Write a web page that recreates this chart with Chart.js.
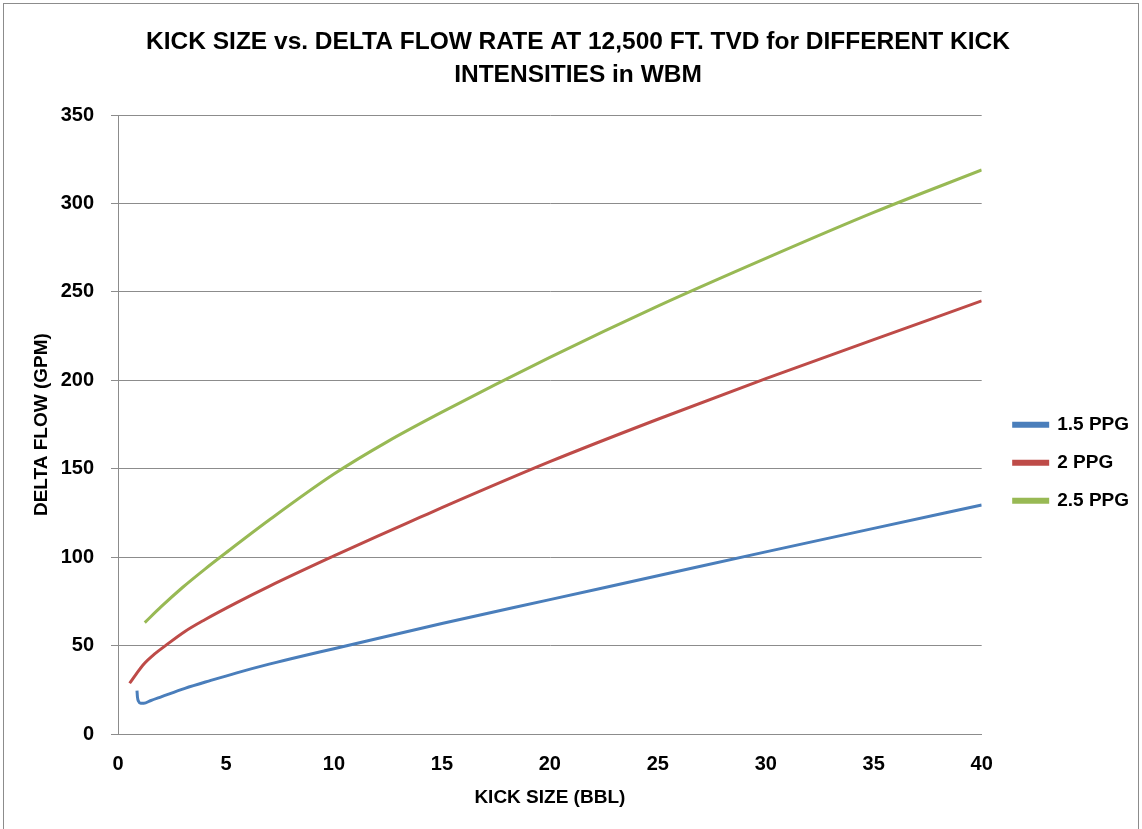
<!DOCTYPE html>
<html>
<head>
<meta charset="utf-8">
<script src="https://cdn.jsdelivr.net/npm/chart.js@4/dist/chart.umd.min.js"></script>
<style>
    html, body { margin: 0; padding: 0; background: #ffffff; }
    #wrap { position: relative; width: 1142px; height: 829px; }
    #moldura { position: absolute; left: 3px; top: 3px; width: 1136px; height: 830px; border: 1px solid #8c8c8c; box-sizing: border-box; }
    canvas { position: absolute; left: 0; top: 0; }
</style>
</head>
<body>
<div id="wrap">
    <div id="moldura"></div>
    <canvas id="kickChart" width="1142" height="829"></canvas>
</div>
<script>
// tamanho do kick (bbl) x delta de vazao (gpm)
const ppg15Kick = [0.88, 0.9, 0.95, 1.05, 1.2, 1.5, 2, 3.1, 4.3, 5.5, 7, 8.5, 10, 15, 20, 25, 30, 35, 40];
const ppg15Flow = [24.5, 21, 18.5, 17.4, 17.4, 18.8, 21, 25.8, 30.3, 34.6, 39.5, 44, 48.2, 62.5, 76, 89.5, 103, 116.3, 129.5];

const ppg20Kick = [0.54, 0.8, 1.2, 1.7, 2.2, 3.1, 4, 5.5, 7, 10, 12, 14, 15, 20, 25, 30, 35, 40];
const ppg20Flow = [28.7, 33.2, 39.6, 45.3, 50, 58, 64.5, 74.3, 83.5, 100.7, 111.8, 122.6, 128, 154, 178, 201, 223, 245];

const ppg25Kick = [1.24, 2, 3, 4, 5, 7, 10, 12.5, 15, 20, 25, 30, 35, 40];
const ppg25Flow = [63, 72, 83, 93, 102.5, 121, 147, 165.5, 182, 213, 242, 269, 295, 319];

const nomesSeries = ['1.5 PPG', '2 PPG', '2.5 PPG'];
const coresSeries = ['#4A7EBB', '#BE4B48', '#98B954'];

const xTicks = [0, 5, 10, 15, 20, 25, 30, 35, 40];
const yTicks = [0, 50, 100, 150, 200, 250, 300, 350];

const fonteBase = "'Liberation Sans', Arial, sans-serif";
const corGrade = '#8c8c8c';

function montaPontos(xs, ys) {
    return xs.map((x, i) => ({ x: x, y: ys[i] }));
}

const dadosSeries = [
    montaPontos(ppg15Kick, ppg15Flow),
    montaPontos(ppg20Kick, ppg20Flow),
    montaPontos(ppg25Kick, ppg25Flow)
];

// legenda solta a direita (um pouco abaixo do meio) e titulo um pouco deslocado
const ajustaLayout = {
    id: 'ajustaLayout',
    afterLayout(chart) {
        const leg = chart.legend;
        const area = chart.chartArea;
        const w = leg.width;
        const h = leg.height;
        leg.left = area.right + 13;
        leg.right = leg.left + w;
        leg.top = area.top + 281;
        leg.bottom = leg.top + h;

        const tit = chart.titleBlock;
        tit.left += 11;
        tit.right += 11;
    }
};

const ctx = document.getElementById('kickChart');

new Chart(ctx, {
    type: 'scatter',
    data: {
        datasets: dadosSeries.map((pts, i) => ({
            label: nomesSeries[i],
            data: pts,
            showLine: true,
            borderColor: coresSeries[i],
            backgroundColor: coresSeries[i],
            borderWidth: 3,
            pointRadius: 0,
            cubicInterpolationMode: 'monotone',
            fill: false
        }))
    },
    options: {
        responsive: false,
        animation: false,
        layout: {
            padding: { left: 8, right: 16, top: 0, bottom: 0 }
        },
        plugins: {
            title: {
                display: true,
                text: ['KICK SIZE vs. DELTA FLOW RATE AT 12,500 FT. TVD for DIFFERENT KICK', 'INTENSITIES in WBM'],
                color: '#000000',
                font: { family: fonteBase, size: 24.5, weight: 'bold', lineHeight: 1.35 },
                padding: { top: 26, bottom: 23 }
            },
            legend: {
                position: 'right',
                align: 'start',
                labels: {
                    color: '#000000',
                    font: { family: fonteBase, size: 19, weight: 'bold' },
                    boxWidth: 34,
                    boxHeight: 3,
                    padding: 19
                }
            },
            tooltip: { enabled: false }
        },
        scales: {
            x: {
                type: 'linear',
                min: 0,
                max: 40,
                afterFit: function (scale) { scale.height = 95; },
                afterBuildTicks: function (scale) { scale.ticks = xTicks.map(v => ({ value: v })); },
                grid: { display: false, drawTicks: true, tickLength: 7, tickColor: corGrade },
                border: { color: corGrade, width: 1 },
                ticks: {
                    color: '#000000',
                    font: { family: fonteBase, size: 20, weight: 'bold' },
                    padding: 11,
                    maxRotation: 0
                },
                title: {
                    display: true,
                    text: 'KICK SIZE (BBL)',
                    color: '#000000',
                    font: { family: fonteBase, size: 19, weight: 'bold' },
                    padding: { top: 4, bottom: 20 }
                }
            },
            y: {
                min: 0,
                max: 350,
                afterFit: function (scale) { scale.width = 110; },
                afterBuildTicks: function (scale) { scale.ticks = yTicks.map(v => ({ value: v })); },
                grid: { color: corGrade, tickLength: 7, tickColor: corGrade },
                border: { color: corGrade, width: 1 },
                ticks: {
                    color: '#000000',
                    font: { family: fonteBase, size: 20, weight: 'bold' },
                    padding: 17
                },
                title: {
                    display: true,
                    text: 'DELTA FLOW (GPM)',
                    color: '#000000',
                    font: { family: fonteBase, size: 19, weight: 'bold' },
                    padding: { top: 22, bottom: 4 }
                }
            }
        }
    },
    plugins: [ajustaLayout]
});
</script>
</body>
</html>
